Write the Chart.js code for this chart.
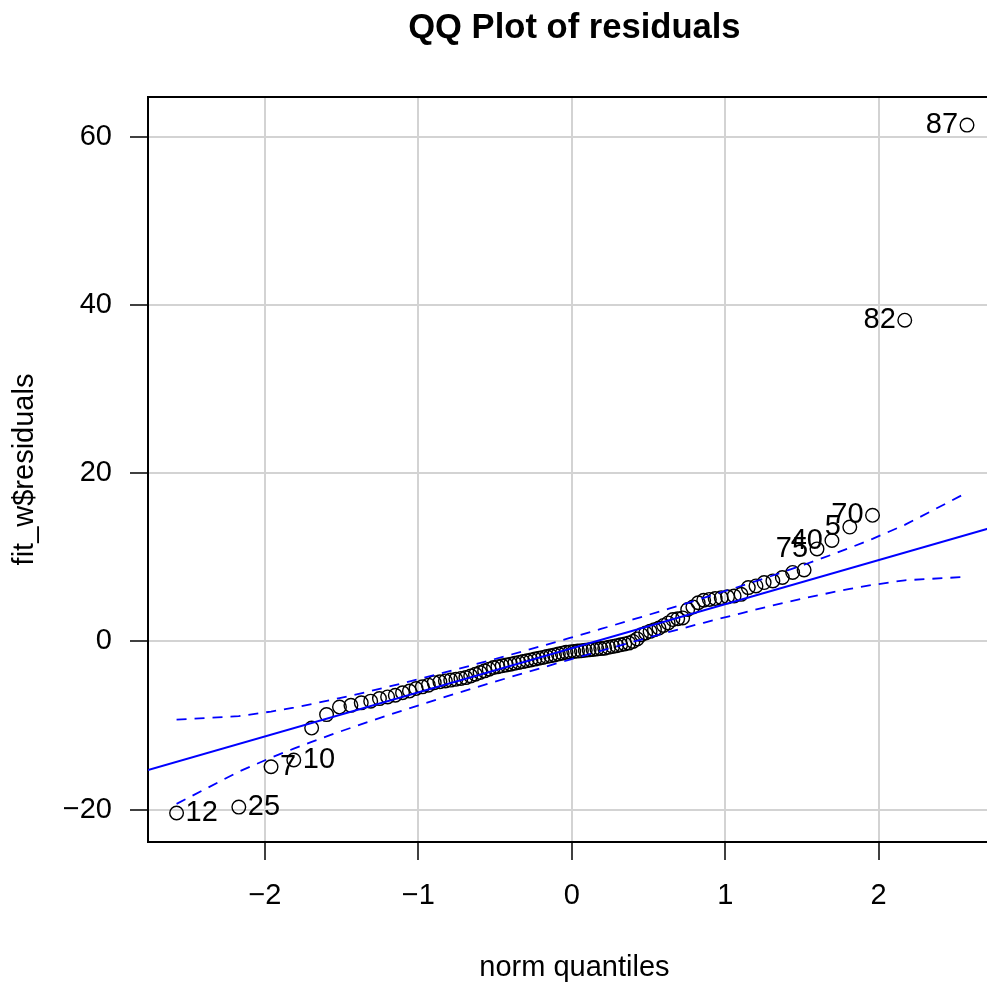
<!DOCTYPE html>
<html lang="en">
<head>
  <meta charset="UTF-8" />
  <title>QQ Plot of residuals</title>
  <style>
    body, html {
      margin: 0;
      background: #ffffff;
      overflow: hidden;
    }
    #qq {
      display: block;
    }
  </style>
</head>
<body>

<!-- the plot region runs a little past the right edge of the window -->
<canvas id="qq" width="1009" height="982"></canvas>

<script src="https://cdn.jsdelivr.net/npm/chart.js"></script>
<script>
  // normal quantiles of the 100 sorted residuals
  const normQuantiles = [
    -2.5758, -2.1701, -1.9600, -1.8119, -1.6954, -1.5982, -1.5141, -1.4395, -1.3722, -1.3106,
    -1.2536, -1.2004, -1.1503, -1.1031, -1.0581, -1.0152, -0.9741, -0.9346, -0.8965, -0.8596,
    -0.8239, -0.7892, -0.7554, -0.7225, -0.6903, -0.6588, -0.6280, -0.5978, -0.5681, -0.5388,
    -0.5101, -0.4817, -0.4538, -0.4261, -0.3989, -0.3719, -0.3451, -0.3186, -0.2924, -0.2663,
    -0.2404, -0.2147, -0.1891, -0.1637, -0.1383, -0.1130, -0.0878, -0.0627, -0.0376, -0.0125,
     0.0125,  0.0376,  0.0627,  0.0878,  0.1130,  0.1383,  0.1637,  0.1891,  0.2147,  0.2404,
     0.2663,  0.2924,  0.3186,  0.3451,  0.3719,  0.3989,  0.4261,  0.4538,  0.4817,  0.5101,
     0.5388,  0.5681,  0.5978,  0.6280,  0.6588,  0.6903,  0.7225,  0.7554,  0.7892,  0.8239,
     0.8596,  0.8965,  0.9346,  0.9741,  1.0152,  1.0581,  1.1031,  1.1503,  1.2004,  1.2536,
     1.3106,  1.3722,  1.4395,  1.5141,  1.5982,  1.6954,  1.8119,  1.9600,  2.1701,  2.5758
  ];

  // sorted fit_w$residuals
  const residuals = [
    -20.4, -19.7, -14.9, -14.1, -10.3, -8.7, -7.8, -7.6, -7.3, -7.1,
    -6.8, -6.6, -6.4, -6.1, -5.9, -5.6, -5.4, -5.2, -4.9, -4.8,
    -4.7, -4.6, -4.5, -4.4, -4.3, -4.1, -3.9, -3.7, -3.5, -3.3,
    -3.1, -3.0, -2.9, -2.8, -2.7, -2.6, -2.5, -2.4, -2.3, -2.2,
    -2.1, -2.0, -1.9, -1.8, -1.7, -1.6, -1.5, -1.4, -1.3, -1.25,
    -1.2, -1.15, -1.1, -1.05, -1.0, -0.95, -0.9, -0.85, -0.8, -0.7,
    -0.6, -0.5, -0.4, -0.3, -0.2, 0.0, 0.3, 0.8, 1.0, 1.2,
    1.4, 1.6, 1.9, 2.2, 2.6, 2.7, 2.8, 3.8, 4.1, 4.6,
    4.9, 5.0, 5.1, 5.2, 5.3, 5.4, 5.6, 6.4, 6.6, 7.0,
    7.2, 7.6, 8.2, 8.5, 11.0, 12.0, 13.6, 15.0, 38.2, 61.4
  ];

  // observation ids shown next to the extreme points (rank in the sorted order)
  const labelRanks = [1, 2, 3, 4, 95, 96, 97, 98, 99, 100];
  const labelIds = ['12', '25', '7', '10', '75', '40', '5', '70', '82', '87'];

  // reference line through the quartiles, across the whole plot region
  const fitX = [-2.762, 2.796];
  const fitY = [-15.28, 13.84];

  // 95% pointwise envelope
  const envX = [-2.5758, -2.1701, -1.9600, -1.8119, -1.6954, -1.5141, -1.3106, -1.1031, -0.8596, -0.6280,
                -0.3989, -0.1891, -0.0125, 0.0125, 0.1891, 0.3989, 0.6280, 0.8596, 1.1031, 1.3106,
                1.5141, 1.6954, 1.8119, 1.9600, 2.1701, 2.5758];
  const envUpper = [-9.30, -8.89, -8.34, -7.86, -7.45, -6.75, -5.90, -4.97, -3.84, -2.72,
                    -1.58, -0.51, 0.41, 0.54, 1.48, 2.61, 3.86, 5.17, 6.59, 7.84,
                    9.12, 10.32, 11.13, 12.20, 13.86, 17.70];
  const envLower = [-19.32, -15.48, -13.82, -12.75, -11.94, -10.74, -9.46, -8.21, -6.79, -5.48,
                    -4.23, -3.10, -2.16, -2.03, -1.12, -0.05, 1.10, 2.22, 3.35, 4.28,
                    5.13, 5.83, 6.24, 6.72, 7.27, 7.68];

  const xTicks = [-2, -1, 0, 1, 2];
  const yTicks = [-20, 0, 20, 40, 60];

  const FONT = '"Liberation Sans", Arial, Helvetica, sans-serif';
  Chart.defaults.font.family = FONT;
  Chart.defaults.color = '#000';

  const pairs = (xs, ys) => xs.map((x, i) => ({ x: x, y: ys[i] }));
  const minus = v => (v < 0 ? '\u2212' + Math.abs(v) : String(v));

  // main title over the plot region, frame top edge, and the id labels
  const qqExtras = {
    id: 'qqExtras',
    afterDatasetsDraw(chart) {
      const { ctx, chartArea } = chart;
      const meta = chart.getDatasetMeta(3);
      ctx.save();
      ctx.font = '29px ' + FONT;
      ctx.fillStyle = '#000';
      ctx.textBaseline = 'middle';
      labelRanks.forEach((r, k) => {
        const pt = meta.data[r - 1];
        if (normQuantiles[r - 1] > 0) {
          ctx.textAlign = 'right';
          ctx.fillText(labelIds[k], pt.x - 9, pt.y);
        } else {
          ctx.textAlign = 'left';
          ctx.fillText(labelIds[k], pt.x + 9, pt.y);
        }
      });
      ctx.strokeStyle = '#000';
      ctx.lineWidth = 2;
      ctx.beginPath();
      ctx.moveTo(chartArea.left - 1, chartArea.top);
      ctx.lineTo(chartArea.right, chartArea.top);
      ctx.stroke();

      ctx.font = 'bold 34.6px ' + FONT;
      ctx.textAlign = 'center';
      ctx.fillText('QQ Plot of residuals', (chartArea.left + chartArea.right) / 2, 28);
      ctx.restore();
    }
  };

  new Chart(document.getElementById('qq').getContext('2d'), {
    type: 'scatter',
    data: {
      datasets: [
        {
          data: pairs(fitX, fitY),
          showLine: true,
          borderColor: '#0000ff',
          borderWidth: 2,
          pointRadius: 0
        },
        {
          data: pairs(envX, envUpper),
          showLine: true,
          borderColor: '#0000ff',
          borderWidth: 1.8,
          borderDash: [10, 8],
          pointRadius: 0
        },
        {
          data: pairs(envX, envLower),
          showLine: true,
          borderColor: '#0000ff',
          borderWidth: 1.8,
          borderDash: [10, 8],
          pointRadius: 0
        },
        {
          data: pairs(normQuantiles, residuals),
          pointRadius: 6.8,
          pointBorderWidth: 1.4,
          pointBorderColor: '#000',
          pointBackgroundColor: 'rgba(0,0,0,0)'
        }
      ]
    },
    options: {
      responsive: false,
      animation: false,
      devicePixelRatio: 1,
      events: [],
      layout: { padding: { top: 97, right: 0, bottom: 0, left: 0 } },
      plugins: {
        legend: { display: false },
        tooltip: { enabled: false },
        title: { display: false }
      },
      scales: {
        x: {
          type: 'linear',
          min: -2.762,
          max: 2.796,
          afterBuildTicks: s => { s.ticks = xTicks.map(v => ({ value: v })); },
          afterFit: s => { s.height = 140; s.paddingLeft = 0; s.paddingRight = 0; },
          grid: { color: '#d3d3d3', lineWidth: 2, tickColor: '#000', tickLength: 18, tickWidth: 1.5 },
          border: { color: '#000', width: 2 },
          ticks: { font: { size: 29 }, padding: 19, maxRotation: 0, autoSkip: false, callback: v => minus(v) },
          title: { display: true, text: 'norm quantiles', font: { size: 29, lineHeight: 1 }, padding: { top: 0, bottom: 0 } }
        },
        y: {
          type: 'linear',
          min: -23.85,
          max: 64.74,
          afterBuildTicks: s => { s.ticks = yTicks.map(v => ({ value: v })); },
          afterFit: s => { s.width = 148; s.paddingTop = 0; s.paddingBottom = 0; },
          grid: { color: '#d3d3d3', lineWidth: 2, tickColor: '#000', tickLength: 18, tickWidth: 1.5 },
          border: { color: '#000', width: 2 },
          ticks: { font: { size: 29 }, padding: 18, autoSkip: false, callback: v => minus(v) },
          title: { display: true, text: 'fit_w$residuals', font: { size: 29, lineHeight: 1 }, padding: { top: 10, bottom: 0 } }
        }
      }
    },
    plugins: [qqExtras]
  });
</script>

</body>
</html>
